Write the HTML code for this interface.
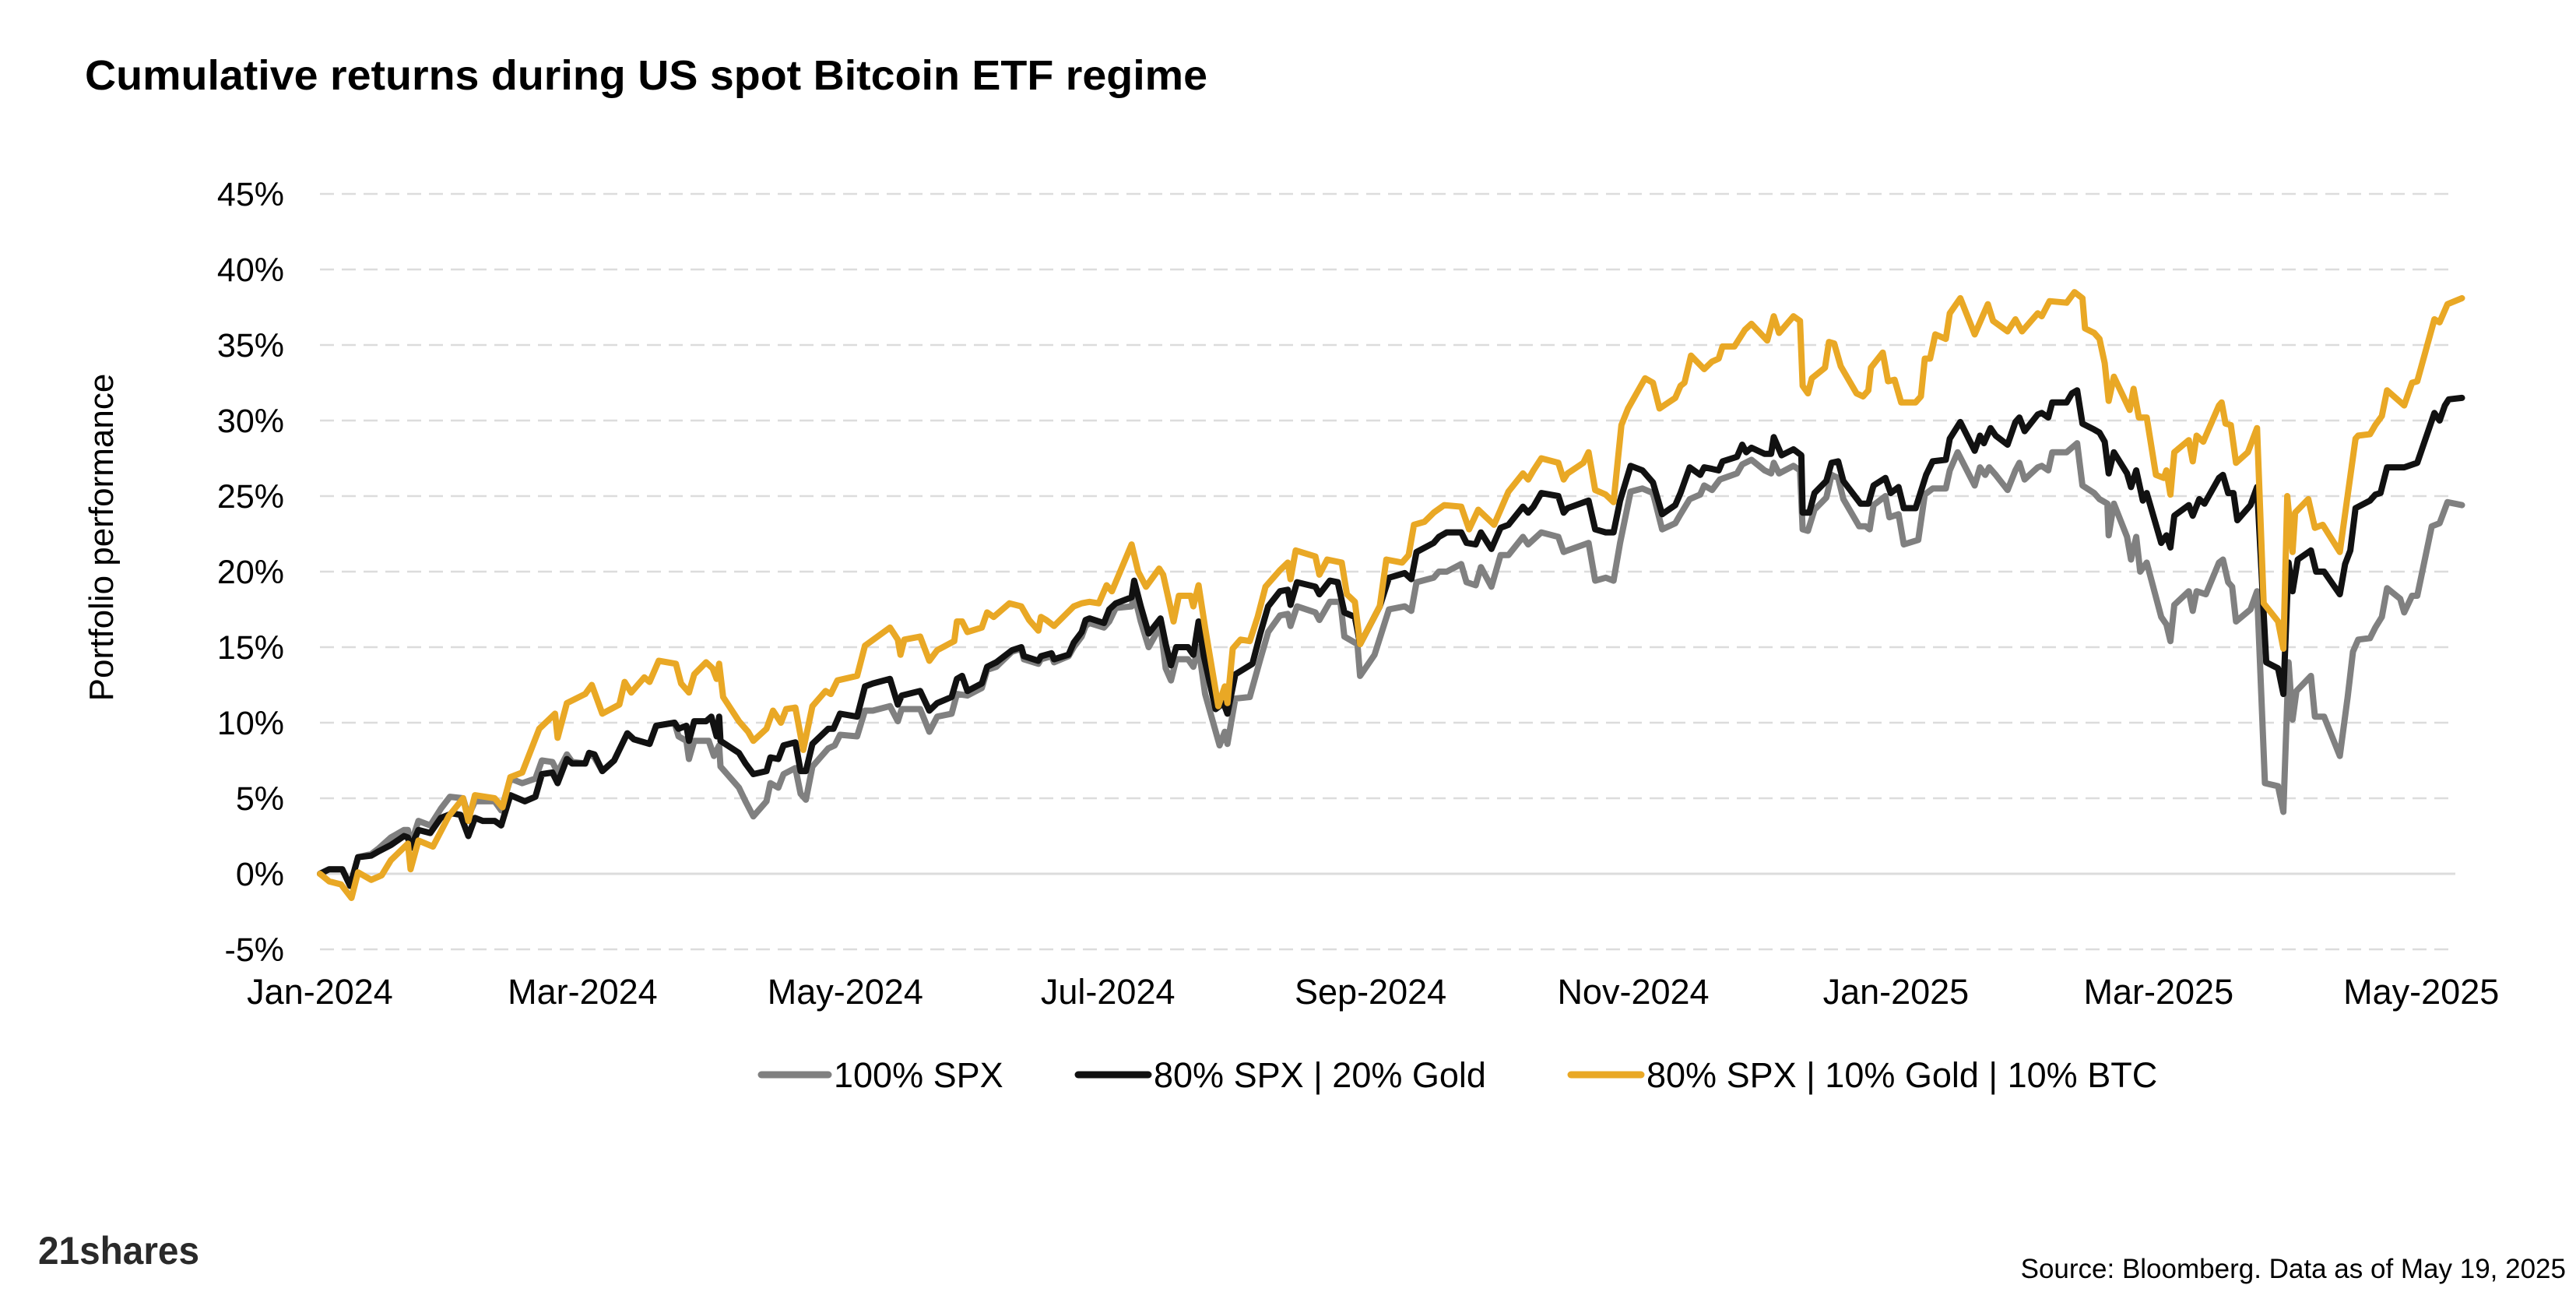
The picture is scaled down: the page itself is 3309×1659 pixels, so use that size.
<!DOCTYPE html>
<html><head><meta charset="utf-8"><style>
html,body{margin:0;padding:0;background:#fff;}
svg{display:block;font-family:"Liberation Sans",sans-serif;}
</style></head><body>
<svg id="chart" width="3309" height="1659" viewBox="0 0 3309 1659">
<text x="109" y="115" font-size="54" font-weight="bold" fill="#000" textLength="1442" lengthAdjust="spacingAndGlyphs">Cumulative returns during US spot Bitcoin ETF regime</text>
<g id="grid"></g>
<g id="yticks"></g>
<g id="xticks"></g>
<text transform="translate(145,690) rotate(-90)" text-anchor="middle" font-size="44" fill="#000">Portfolio performance</text>
<g id="series"></g>
<g>
 <g>
  <line x1="978" y1="1380" x2="1064" y2="1380" stroke="#808080" stroke-width="9" stroke-linecap="round"/>
  <text x="1071" y="1396" font-size="45" fill="#000">100% SPX</text>
 </g>
 <g>
  <line x1="1385" y1="1380" x2="1475" y2="1380" stroke="#111" stroke-width="9" stroke-linecap="round"/>
  <text x="1482" y="1396" font-size="45" fill="#000">80% SPX | 20% Gold</text>
 </g>
 <g>
  <line x1="2018" y1="1380" x2="2108" y2="1380" stroke="#E9A825" stroke-width="9" stroke-linecap="round"/>
  <text x="2115" y="1396" font-size="45" fill="#000">80% SPX | 10% Gold | 10% BTC</text>
 </g>
</g>
<text x="49" y="1623" font-size="50" font-weight="bold" fill="#2a2a2a" textLength="207" lengthAdjust="spacingAndGlyphs">21shares</text>
<text x="3296" y="1641" text-anchor="end" font-size="35" fill="#000">Source: Bloomberg. Data as of May 19, 2025</text>
</svg>
<script>
const yTicks=[-5,0,5,10,15,20,25,30,35,40,45];
const xTickLabels=["Jan-2024","Mar-2024","May-2024","Jul-2024","Sep-2024","Nov-2024","Jan-2025","Mar-2025","May-2025"];
const xTickMonths=[0,2,4,6,8,10,12,14,16];
const spxT=[0,0.07,0.17,0.23,0.29,0.39,0.45,0.54,0.64,0.67,0.69,0.75,0.84,0.92,0.99,1.09,1.13,1.18,1.33,1.38,1.45,1.54,1.64,1.69,1.77,1.81,1.88,1.92,2.02,2.05,2.09,2.15,2.24,2.34,2.39,2.51,2.56,2.70,2.73,2.79,2.81,2.85,2.96,3.00,3.04,3.05,3.19,3.24,3.30,3.40,3.43,3.49,3.53,3.62,3.66,3.70,3.75,3.87,3.92,3.96,4.09,4.15,4.21,4.34,4.40,4.43,4.57,4.64,4.70,4.81,4.85,4.93,5.04,5.08,5.15,5.27,5.34,5.36,5.47,5.49,5.57,5.59,5.70,5.74,5.80,5.83,5.86,5.97,6.01,6.06,6.18,6.20,6.25,6.31,6.40,6.44,6.48,6.52,6.61,6.65,6.69,6.74,6.85,6.89,6.91,6.97,7.08,7.16,7.22,7.31,7.37,7.39,7.44,7.58,7.61,7.69,7.77,7.80,7.90,7.92,8.03,8.14,8.26,8.31,8.35,8.48,8.52,8.58,8.69,8.73,8.80,8.84,8.92,8.99,9.05,9.16,9.20,9.30,9.43,9.47,9.50,9.66,9.71,9.79,9.85,9.90,9.98,10.07,10.15,10.22,10.32,10.36,10.43,10.51,10.54,10.60,10.66,10.79,10.83,10.90,11.00,11.05,11.07,11.11,11.22,11.27,11.29,11.33,11.38,11.47,11.51,11.56,11.60,11.72,11.77,11.80,11.83,11.92,11.95,12.02,12.06,12.17,12.22,12.28,12.38,12.41,12.47,12.60,12.64,12.68,12.71,12.76,12.85,12.91,12.94,12.98,13.08,13.11,13.16,13.19,13.30,13.38,13.42,13.51,13.55,13.61,13.62,13.66,13.76,13.79,13.83,13.86,13.91,14.02,14.06,14.09,14.12,14.23,14.26,14.29,14.36,14.46,14.49,14.53,14.56,14.59,14.70,14.75,14.81,14.91,14.95,14.99,15.02,15.05,15.16,15.19,15.26,15.38,15.44,15.48,15.52,15.61,15.65,15.70,15.74,15.84,15.87,15.93,15.97,16.08,16.14,16.20,16.31];
const spxV=[0,0.3,0.3,-0.8,1.1,1.3,1.7,2.4,2.9,2.9,1.9,3.5,3.2,4.3,5.1,5.0,3.8,4.8,4.8,4.2,6.3,6.0,6.3,7.5,7.4,6.7,7.9,7.4,7.3,8.0,7.7,6.8,7.5,9.3,8.9,8.6,9.8,10.0,9.1,8.8,7.6,8.8,8.8,7.8,8.5,7.1,5.7,4.8,3.8,4.8,6.0,5.7,6.6,7.0,5.3,4.9,7.1,8.3,8.5,9.2,9.1,10.8,10.8,11.1,10.1,10.9,10.9,9.4,10.4,10.6,11.9,11.8,12.3,13.5,13.7,14.7,14.9,14.2,13.9,14.2,14.4,14.0,14.4,15.0,15.7,16.4,16.6,16.3,16.7,17.6,17.7,18.5,16.7,15.0,16.4,13.6,12.8,14.2,14.2,13.7,15.0,11.9,8.5,9.4,8.6,11.6,11.7,14.2,16.0,17.1,17.2,16.4,17.7,17.3,16.8,18.0,18.0,15.7,15.2,13.1,14.5,17.5,17.7,17.4,19.3,19.6,20.0,20.0,20.5,19.3,19.1,20.3,19.0,21.1,21.1,22.3,21.8,22.6,22.3,21.3,21.4,21.9,19.4,19.6,19.4,21.9,25.3,25.5,25.2,22.8,23.2,23.8,24.8,25.1,25.7,25.4,26.1,26.5,27.1,27.4,26.7,26.5,27.2,26.5,27.0,26.7,22.8,22.7,24.1,24.9,26.4,26.2,24.8,23.0,23.0,22.8,24.4,25.0,23.6,23.8,21.8,22.1,25.1,25.5,25.5,26.7,27.9,25.7,26.9,26.4,26.9,26.4,25.4,26.7,27.2,26.1,26.9,27.0,26.7,27.9,27.9,28.5,25.7,25.2,24.8,24.5,22.4,24.5,22.3,20.8,22.3,20.0,20.6,17.0,16.5,15.4,17.8,18.7,17.4,18.7,18.5,20.6,20.8,19.3,19.0,16.7,17.5,18.7,6.0,5.8,4.1,14.0,10.2,12.1,13.1,10.4,10.4,7.8,11.7,14.7,15.5,15.6,16.3,17.0,18.9,18.2,17.3,18.4,18.4,23.0,23.2,24.6,24.4];
const goldMixT=[0,0.07,0.17,0.23,0.29,0.39,0.45,0.54,0.64,0.67,0.69,0.75,0.84,0.92,1.01,1.07,1.13,1.18,1.24,1.33,1.38,1.45,1.56,1.64,1.69,1.77,1.81,1.88,1.92,2.02,2.05,2.09,2.15,2.24,2.34,2.39,2.51,2.56,2.70,2.73,2.79,2.81,2.85,2.94,2.98,3.02,3.04,3.05,3.19,3.24,3.30,3.40,3.43,3.49,3.53,3.62,3.66,3.70,3.75,3.87,3.91,3.96,4.09,4.15,4.21,4.34,4.40,4.43,4.57,4.64,4.70,4.81,4.85,4.89,4.93,5.04,5.08,5.15,5.27,5.34,5.36,5.47,5.49,5.57,5.59,5.70,5.74,5.80,5.83,5.86,5.97,6.01,6.06,6.18,6.20,6.25,6.31,6.40,6.44,6.48,6.52,6.61,6.65,6.69,6.73,6.82,6.88,6.91,6.97,7.10,7.16,7.22,7.31,7.37,7.39,7.44,7.58,7.61,7.69,7.75,7.80,7.88,7.92,8.07,8.14,8.26,8.31,8.35,8.48,8.52,8.58,8.69,8.73,8.80,8.84,8.92,8.99,9.05,9.16,9.20,9.24,9.30,9.43,9.47,9.50,9.66,9.71,9.79,9.85,9.90,9.98,10.07,10.15,10.22,10.32,10.36,10.43,10.51,10.54,10.60,10.65,10.68,10.79,10.83,10.86,10.90,11.00,11.05,11.07,11.13,11.22,11.28,11.29,11.34,11.38,11.47,11.51,11.56,11.60,11.73,11.79,11.83,11.92,11.96,12.02,12.06,12.15,12.23,12.28,12.38,12.41,12.49,12.60,12.64,12.67,12.72,12.76,12.85,12.91,12.94,12.98,13.08,13.11,13.16,13.19,13.30,13.34,13.38,13.42,13.51,13.55,13.59,13.62,13.66,13.76,13.79,13.83,13.88,13.91,14.02,14.06,14.09,14.12,14.23,14.26,14.31,14.35,14.46,14.49,14.53,14.57,14.60,14.70,14.75,14.82,14.91,14.95,14.99,15.02,15.06,15.16,15.20,15.26,15.38,15.42,15.46,15.50,15.61,15.65,15.69,15.74,15.87,15.97,16.10,16.14,16.18,16.21,16.31];
const goldMixV=[0,0.3,0.3,-0.8,1.1,1.2,1.5,1.9,2.5,2.4,1.7,2.9,2.7,3.7,4.0,3.9,2.5,3.7,3.5,3.5,3.2,5.2,4.8,5.1,6.6,6.7,6.0,7.6,7.3,7.3,8.0,7.9,6.8,7.5,9.3,8.9,8.6,9.8,10.0,9.6,9.8,8.8,10.1,10.1,10.4,9.1,10.4,8.8,8.0,7.3,6.6,6.8,7.7,7.6,8.5,8.7,6.8,6.8,8.6,9.6,9.6,10.6,10.4,12.4,12.6,12.9,11.2,11.8,12.1,10.8,11.3,11.7,12.9,13.1,12.1,12.6,13.7,14.0,14.8,15.0,14.4,14.1,14.4,14.6,14.2,14.5,15.3,16.0,16.8,16.9,16.6,17.5,17.9,18.3,19.4,17.7,15.9,16.9,15.2,13.8,15.0,15.0,14.5,16.7,14.4,10.9,11.3,10.6,13.2,13.9,15.9,17.7,18.7,18.8,17.8,19.3,19.0,18.5,19.4,19.3,17.3,17.0,15.2,17.7,19.6,19.9,19.5,21.3,21.9,22.3,22.6,22.6,21.9,21.8,22.6,21.5,22.9,23.1,24.3,23.9,24.3,25.2,25.0,23.9,24.2,24.7,22.8,22.6,22.6,24.7,27.0,26.7,25.9,23.8,24.4,25.2,26.9,26.4,26.9,26.8,26.7,27.3,27.6,28.4,27.9,28.2,27.8,27.8,28.9,27.7,28.1,27.7,23.9,23.9,25.2,26.0,27.2,27.3,26.0,24.5,24.5,25.7,26.2,25.2,25.6,24.2,24.2,26.4,27.3,27.4,28.8,29.9,28.0,29.0,28.5,29.5,29.0,28.4,29.9,30.2,29.3,30.4,30.5,30.2,31.2,31.2,31.8,32.0,29.8,29.4,29.2,28.6,26.5,27.9,26.5,25.6,26.7,24.7,25.2,21.9,22.4,21.6,23.7,24.4,23.7,24.8,24.5,26.2,26.4,25.2,25.2,23.4,24.4,25.6,14.0,13.6,11.9,20.6,18.7,20.8,21.4,20.0,20.0,18.5,20.5,21.4,24.2,24.7,25.1,25.2,26.9,26.9,27.2,30.5,30.0,31.0,31.4,31.5];
const btcMixT=[0,0.07,0.16,0.24,0.29,0.39,0.47,0.54,0.67,0.69,0.75,0.86,0.98,1.09,1.13,1.18,1.33,1.39,1.45,1.54,1.67,1.79,1.81,1.88,2.02,2.07,2.15,2.28,2.32,2.37,2.47,2.51,2.58,2.71,2.75,2.81,2.85,2.94,2.99,3.02,3.04,3.07,3.19,3.26,3.30,3.40,3.45,3.51,3.55,3.62,3.68,3.75,3.85,3.89,3.94,4.09,4.15,4.34,4.40,4.42,4.45,4.57,4.64,4.70,4.83,4.85,4.89,4.93,5.04,5.08,5.13,5.25,5.34,5.40,5.47,5.49,5.53,5.59,5.74,5.80,5.86,5.93,5.99,6.03,6.18,6.23,6.29,6.39,6.42,6.50,6.54,6.63,6.65,6.69,6.74,6.84,6.89,6.91,6.95,7.01,7.08,7.14,7.20,7.31,7.37,7.39,7.43,7.58,7.61,7.67,7.78,7.82,7.88,7.92,8.07,8.12,8.24,8.29,8.33,8.41,8.48,8.56,8.69,8.75,8.82,8.94,8.99,9.05,9.16,9.20,9.24,9.30,9.43,9.47,9.50,9.62,9.66,9.71,9.79,9.85,9.91,9.96,10.09,10.15,10.20,10.32,10.36,10.39,10.44,10.54,10.60,10.65,10.68,10.77,10.85,10.90,11.02,11.07,11.11,11.22,11.27,11.29,11.33,11.36,11.46,11.49,11.53,11.58,11.70,11.75,11.79,11.81,11.90,11.94,11.99,12.04,12.15,12.19,12.22,12.26,12.30,12.38,12.41,12.49,12.60,12.66,12.70,12.74,12.85,12.91,12.96,13.08,13.11,13.17,13.30,13.36,13.42,13.44,13.51,13.55,13.59,13.62,13.66,13.72,13.78,13.81,13.85,13.91,13.98,14.04,14.06,14.09,14.12,14.23,14.26,14.29,14.34,14.46,14.48,14.51,14.55,14.59,14.68,14.75,14.80,14.91,14.95,14.98,15.02,15.04,15.14,15.19,15.25,15.38,15.50,15.52,15.61,15.65,15.70,15.74,15.87,15.93,15.97,16.10,16.14,16.20,16.31];
const btcMixV=[0,-0.5,-0.7,-1.6,0.1,-0.4,-0.1,0.9,2.0,0.3,2.2,1.8,3.8,5.0,3.5,5.2,5.0,4.4,6.4,6.7,9.6,10.6,9.0,11.3,11.9,12.5,10.6,11.2,12.7,12.0,13.0,12.7,14.1,13.9,12.6,12.0,13.2,14.0,13.6,12.9,13.9,11.7,10.1,9.4,8.8,9.6,10.8,10.0,10.9,11.0,8.2,11.1,12.1,11.9,12.8,13.1,15.1,16.3,15.5,14.5,15.5,15.7,14.1,14.8,15.4,16.7,16.7,16.0,16.3,17.3,17.0,17.9,17.7,16.8,16.1,17.0,16.8,16.4,17.7,17.9,18.0,17.9,19.1,18.7,21.8,20.0,19.0,20.2,19.8,16.7,18.4,18.4,17.7,19.1,16.3,11.1,12.4,11.3,14.9,15.5,15.4,17.0,19.0,20.1,20.6,19.5,21.4,21.0,19.8,20.8,20.6,18.5,18.0,15.2,17.7,20.8,20.6,21.1,23.1,23.3,23.9,24.4,24.3,22.8,24.1,23.1,24.1,25.3,26.5,26.1,26.7,27.5,27.2,26.1,26.5,27.2,27.9,25.4,25.1,24.6,29.7,30.8,32.8,32.5,30.8,31.5,32.3,32.5,34.3,33.4,33.9,34.1,34.9,34.9,36.0,36.4,35.3,36.9,35.8,36.9,36.6,32.3,31.8,32.8,33.5,35.2,35.1,33.6,31.8,31.6,32.0,33.5,34.5,32.6,32.7,31.2,31.2,31.6,34.1,34.1,35.7,35.4,37.1,38.1,35.7,36.9,37.7,36.6,35.9,36.7,35.9,37.1,36.9,37.9,37.8,38.5,38.1,36.1,35.8,35.4,33.8,31.3,32.9,31.8,30.7,32.1,30.2,30.2,26.4,26.2,26.7,25.1,27.9,28.7,27.3,29.0,28.6,31.0,31.2,29.8,29.7,27.2,27.9,29.5,17.9,16.7,14.9,25.0,21.3,23.9,24.8,22.9,23.1,21.3,28.8,29.0,29.1,29.7,30.3,32.0,31.0,32.5,32.6,36.7,36.5,37.7,38.1];

const NS="http://www.w3.org/2000/svg";
function xS(t){return 411+t*168.7;}
function yS(v){return 1122-v*19.4;}
const grid=document.getElementById('grid');
const yt=document.getElementById('yticks');
yTicks.forEach(v=>{
  const l=document.createElementNS(NS,'line');
  l.setAttribute('x1',411);l.setAttribute('x2',3154);
  l.setAttribute('y1',yS(v));l.setAttribute('y2',yS(v));
  l.setAttribute('stroke','#dcdcdc');l.setAttribute('stroke-width',v===0?3:2.5);
  if(v!==0) l.setAttribute('stroke-dasharray','18 10');
  
  
  grid.appendChild(l);
  const t=document.createElementNS(NS,'text');
  t.setAttribute('x',365);t.setAttribute('y',yS(v)+15);
  t.setAttribute('text-anchor','end');t.setAttribute('font-size','43');
  t.textContent=v+'%';
  
  
  yt.appendChild(t);
});
const xt=document.getElementById('xticks');
xTickLabels.forEach((s,i)=>{
  const t=document.createElementNS(NS,'text');
  t.setAttribute('x',xS(xTickMonths[i]));t.setAttribute('y',1289);
  t.setAttribute('text-anchor','middle');t.setAttribute('font-size','45');
  t.textContent=s;
  
  
  xt.appendChild(t);
});
const sg=document.getElementById('series');
function draw(T,V,color,name){
  const p=document.createElementNS(NS,'path');
  let d='';
  for(let i=0;i<T.length;i++){d+=(i?'L':'M')+xS(T[i]).toFixed(1)+' '+yS(V[i]).toFixed(1);}
  p.setAttribute('d',d);p.setAttribute('fill','none');p.setAttribute('stroke',color);
  p.setAttribute('stroke-width',8);p.setAttribute('stroke-linejoin','round');p.setAttribute('stroke-linecap','round');
  
  
  sg.appendChild(p);
}
draw(spxT,spxV,'#808080','line-100-spx');
draw(goldMixT,goldMixV,'#111111','line-80-spx-20-gold');
draw(btcMixT,btcMixV,'#E9A825','line-80-spx-10-gold-10-btc');
</script>
</body></html>
